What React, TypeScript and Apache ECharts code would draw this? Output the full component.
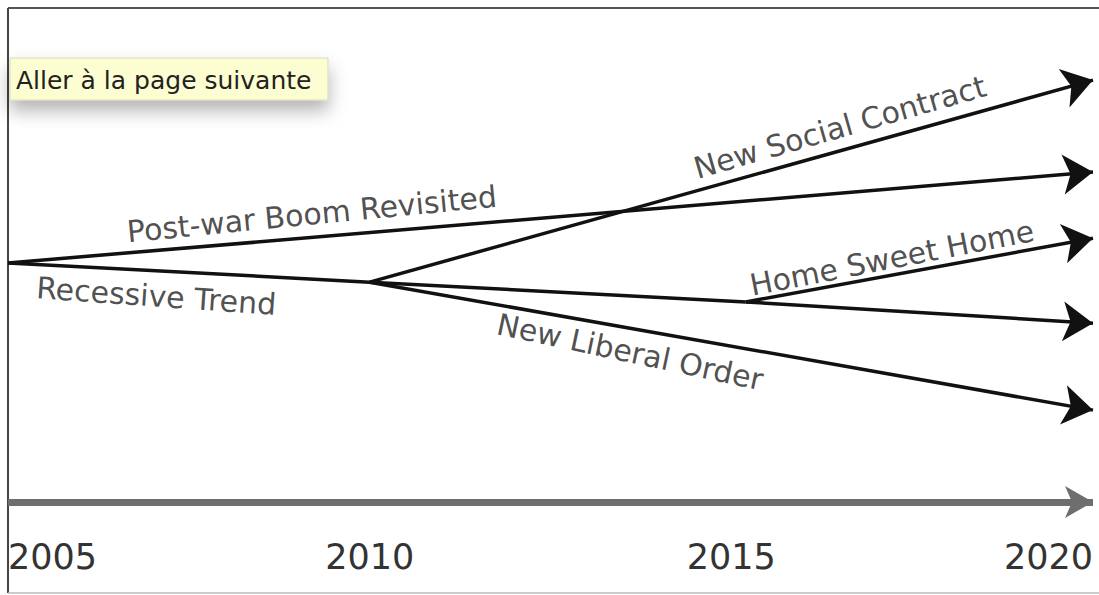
import React, { useEffect, useRef } from "react";
import * as echarts from "echarts";

// Axis ticks (years)
const yearTicks = [2005, 2010, 2015, 2020];

// Branch points of the scenario tree (year, position index)
const origin = [2005, 48.4];
const branch2010 = [2010, 44.5];
const branch2015 = [2015.2, 40.5];

// Arrowed scenario segments
const arrowNames = ["Post-war Boom Revisited", "New Social Contract", "New Liberal Order", "Recessive Trend", "Home Sweet Home"];
const arrowFrom = [origin, branch2010, branch2010, branch2015, branch2015];
const arrowTo = [[2020, 66.8], [2020, 85.4], [2020, 18.6], [2020, 36.2], [2020, 53.4]];

// Recessive trend trunk (no arrow)
const trunkPoints = [origin, branch2010, branch2015];

// Scenario labels (anchor year, anchor value, rotation in degrees)
const labelNames = ["Post-war Boom Revisited", "Recessive Trend", "New Social Contract", "Home Sweet Home", "New Liberal Order"];
const labelX = [2009.2, 2007.05, 2016.5, 2017.22, 2013.6];
const labelY = [58.3, 41.7, 75.9, 49.4, 30.4];
const labelRotate = [5.5, -4, 16, 11, -12];

const FONT = "'DejaVu Sans', 'Open Sans', sans-serif";

export default function App() {
  const ref = useRef<HTMLDivElement>(null);

  useEffect(() => {
    document.body.style.margin = "0";
    const chart = echarts.init(ref.current!, undefined, { renderer: "svg" });
    const option: any = {
      animation: false,
      backgroundColor: "#ffffff",
      grid: { left: 8, right: 6, top: 8, bottom: 93 },
      xAxis: {
        type: "value",
        min: 2005,
        max: 2020,
        interval: 5,
        splitLine: { show: false },
        axisTick: { show: false },
        axisLine: {
          show: true,
          onZero: false,
          symbol: ["none", "arrow"],
          symbolSize: [24, 28],
          lineStyle: { color: "#6e6e6e", width: 7, cap: "butt" },
        },
        axisLabel: {
          margin: 37,
          fontSize: 35,
          color: "#333",
          fontFamily: FONT,
          alignMinLabel: "left",
          alignMaxLabel: "right",
          formatter: (v: number) => (yearTicks.includes(v) ? String(v) : ""),
        },
      },
      yAxis: { type: "value", min: 0, max: 100, show: false },
      graphic: [
        { type: "line", shape: { x1: 8, y1: 8, x2: 1099, y2: 8 }, style: { stroke: "#555", lineWidth: 2 } },
        { type: "line", shape: { x1: 8, y1: 8, x2: 8, y2: 593 }, style: { stroke: "#444", lineWidth: 2 } },
        { type: "line", shape: { x1: 8, y1: 593, x2: 1099, y2: 593 }, style: { stroke: "#bbb", lineWidth: 1.5 } },
        {
          type: "rect",
          shape: { x: 10, y: 58, width: 318, height: 42 },
          style: {
            fill: "#fdfdd2",
            stroke: "#d8d8c0",
            lineWidth: 1,
            shadowBlur: 18,
            shadowOffsetY: 10,
            shadowColor: "rgba(0,0,0,0.3)",
          },
          z: 10,
        },
        {
          type: "text",
          x: 16,
          y: 80,
          z: 11,
          style: {
            text: "Aller à la page suivante",
            fontFamily: FONT,
            fontSize: 25,
            fill: "#222",
            verticalAlign: "middle",
          },
        },
      ],
      series: [
        {
          type: "line",
          name: "Recessive Trend trunk",
          data: trunkPoints,
          symbol: "none",
          lineStyle: { color: "#111", width: 3.5 },
        },
        {
          type: "lines",
          coordinateSystem: "cartesian2d",
          symbol: ["none", "arrow"],
          symbolSize: [16, 30],
          lineStyle: { color: "#111", width: 3.5, opacity: 1 },
          data: arrowNames.map((n, i) => ({ name: n, coords: [arrowFrom[i], arrowTo[i]] })),
        },
        {
          type: "scatter",
          symbolSize: 0,
          data: labelNames.map((n, i) => ({
            name: n,
            value: [labelX[i], labelY[i]],
            label: { rotate: labelRotate[i] },
          })),
          label: {
            show: true,
            position: "inside",
            formatter: "{b}",
            fontSize: 30,
            fontFamily: FONT,
            color: "#222",
          },
        },
      ],
    };
    chart.setOption(option);
    return () => chart.dispose();
  }, []);

  return <div ref={ref} style={{ width: 1099, height: 595 }} />;
}
